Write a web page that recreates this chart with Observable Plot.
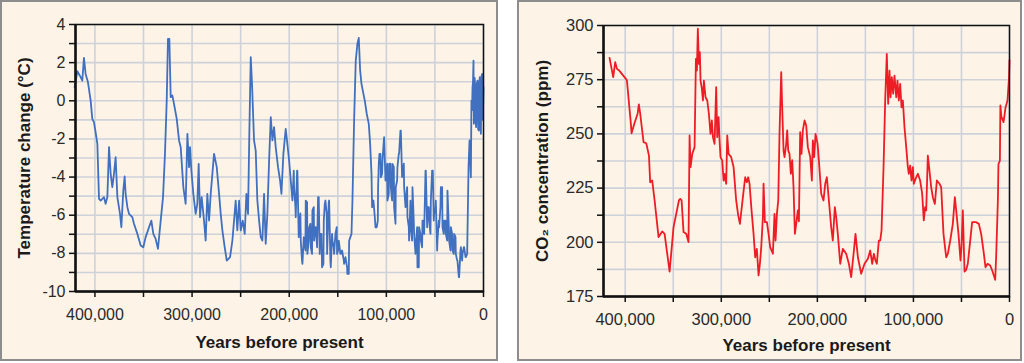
<!DOCTYPE html>
<html>
<head>
<meta charset="utf-8">
<script src="https://cdn.jsdelivr.net/npm/d3@7"></script>
<script src="https://cdn.jsdelivr.net/npm/@observablehq/plot@0.6"></script>
<style>
  html, body { margin: 0; padding: 0; background: #ffffff; }
  body { width: 1024px; height: 363px; position: relative; overflow: hidden; font-family: "Liberation Sans", Arial, sans-serif; }
  .panel { position: absolute; top: 0; height: 361px; box-sizing: border-box; border: 2px solid #8d8d8d; background: #fdf3e7; }
  #left { left: 0; width: 498px; }
  #right { left: 517px; width: 505px; }
  .panel svg { display: block; }
  g[aria-label="x-axis label"] text, g[aria-label="y-axis label"] text { font-weight: bold; font-size: 17px; fill: #1a1a1a; }
  g[aria-label="x-axis tick label"] text, g[aria-label="y-axis tick label"] text { fill: #2a2a2a; }
</style>
</head>
<body>
<div class="panel" id="left"></div>
<div class="panel" id="right"></div>
<script>
// ---- Temperature change (Vostok), years before present in thousands ----
const tempKyr = [420.9,418.1,414.7,413.0,411.3,409.6,407.2,404.4,402.7,401.0,399.3,397.5,395.8,394.1,390.7,389.0,387.2,385.5,383.8,382.1,380.4,378.7,376.9,374.2,372.8,370.8,369.4,368.4,366.6,364.9,361.5,359.8,356.3,352.9,350.2,347.8,344.3,341.9,339.9,337.5,335.1,332.3,329.9,327.9,326.1,324.8,323.4,322.0,320.3,318.6,315.8,313.4,311.7,309.0,306.6,304.8,303.1,302.1,300.7,298.7,296.3,294.6,293.2,291.8,290.1,287.7,286.0,284.3,282.5,280.8,277.4,274.6,272.2,270.5,268.8,266.4,264.3,260.9,258.5,256.8,255.1,253.4,251.6,249.9,247.9,245.8,244.1,242.4,241.0,239.6,238.3,236.2,234.5,232.8,231.0,229.3,227.6,225.9,224.2,222.5,220.7,219.0,217.3,215.6,213.9,211.5,209.4,208.0,206.0,203.6,201.9,200.1,198.4,196.7,195.0,193.3,191.6,189.8,188.1,186.4,184.7,183.0,181.3,179.5,177.8,176.1,174.4,172.7,170.3,168.6,166.8,164.8,163.4,161.4,158.9,157.2,155.5,153.8,151.1,149.7,146.9,143.5,140.1,138.3,135.9,134.9,133.2,131.5,129.8,128.4,127.0,125.6,123.6,122.2,120.2,118.1,116.7,115.3,113.3,111.9,109.9,108.5,107.1,105.7,104.0,102.3,100.6,98.9,97.2,95.4,93.7,92.0,90.3,88.6,86.9,85.1,83.4,81.7,80.0,78.3,76.6,74.8,73.1,71.4,69.7,68.0,66.3,64.5,62.8,61.1,59.4,57.7,56.0,54.2,52.2,50.8,49.1,47.4,45.7,43.9,42.2,40.5,38.8,37.1,35.4,33.6,31.9,30.2,28.5,26.8,25.1,23.3,21.6,19.9,18.2,16.5,15.4,14.4,13.0,12.4,11.3,10.3,9.6,8.6,7.6,6.2,4.8,3.8,2.7,1.4,0.0];
const tempC = [0.71,1.55,1.24,1.06,2.25,1.41,0.98,0.01,-0.95,-1.12,-1.65,-2.26,-5.14,-5.23,-5.05,-5.40,-5.05,-2.43,-3.83,-4.53,-3.83,-2.96,-5.05,-5.93,-6.63,-4.71,-3.97,-4.88,-5.58,-5.93,-6.10,-6.45,-6.98,-7.59,-7.68,-7.15,-6.63,-6.28,-6.98,-7.24,-7.76,-6.28,-5.05,-2.78,0.01,3.25,3.25,0.19,0.28,-0.16,-0.95,-2.08,-2.43,-4.53,-5.40,-1.73,-3.48,-2.43,-3.66,-4.88,-5.93,-5.40,-3.31,-6.10,-5.05,-6.28,-7.33,-4.88,-6.28,-4.88,-2.78,-3.48,-4.88,-5.93,-6.80,-7.68,-8.38,-8.20,-7.33,-6.28,-5.23,-6.80,-5.23,-6.80,-6.28,-6.98,-4.88,-5.93,-1.56,2.29,0.89,-2.08,-2.61,-5.23,-6.28,-7.15,-7.33,-4.88,-7.50,-5.93,-3.13,-0.86,-2.08,-1.38,-2.43,-3.48,-4.18,-4.88,-2.78,-1.47,-2.26,-3.13,-4.18,-5.23,-4.53,-6.10,-3.66,-6.63,-7.33,-8.55,-7.33,-5.23,-8.03,-6.63,-7.68,-5.75,-7.33,-6.63,-5.05,-8.03,-6.98,-8.55,-5.40,-5.93,-5.23,-8.73,-7.33,-8.03,-6.63,-7.85,-8.03,-8.55,-9.08,-7.33,-6.98,-5.23,-1.03,2.11,2.99,3.30,1.59,0.89,0.36,0.01,-0.68,-1.21,-2.26,-3.83,-5.23,-6.10,-6.63,-4.53,-2.78,-4.01,-3.13,-1.91,-4.18,-5.23,-3.31,-4.53,-3.31,-5.58,-4.53,-3.48,-2.78,-1.56,-3.83,-4.53,-5.23,-6.10,-7.33,-6.63,-4.53,-6.98,-7.68,-8.73,-6.63,-7.33,-6.28,-6.98,-3.66,-5.58,-6.28,-5.23,-3.66,-5.93,-5.23,-7.33,-6.63,-4.53,-6.63,-6.28,-6.98,-4.71,-7.33,-6.63,-7.85,-6.98,-8.03,-8.38,-9.25,-7.68,-8.03,-7.68,-8.20,-6.98,-3.48,-2.08,-4.01,0.01,0.71,2.11,-0.86,0.71,-1.38,1.06,-1.56,1.24,-1.73,1.41,0.71];
// second, finer reading of the noisy stretches (195–138 kyr, 115–17 kyr, last 12 kyr)
const tempKyrFine = [195.3,193.6,191.9,190.2,188.5,186.8,185.0,183.3,181.6,179.9,178.2,176.5,174.7,173.0,171.3,169.6,167.9,166.2,164.4,162.7,161.0,159.3,157.6,155.9,154.2,152.4,150.7,149.0,147.3,145.6,143.8,142.1,140.4,138.7,114.7,111.2,108.8,107.8,106.1,104.4,102.6,100.9,99.2,97.5,95.8,94.1,92.3,90.6,88.9,87.2,85.5,83.8,82.0,80.3,78.6,76.9,75.2,73.5,71.8,70.0,68.3,66.6,64.9,63.2,61.5,59.7,58.0,56.3,54.6,52.9,51.2,49.4,47.7,46.0,44.3,42.6,40.9,39.1,37.4,35.7,34.0,32.3,30.6,28.8,27.1,25.4,23.7,22.0,20.3,18.5,16.8,11.8,10.8,9.9,9.1,8.1,6.9,5.5,4.3,3.2,2.0,0.7];
const tempCFine = [-3.66,-5.58,-3.66,-7.15,-5.90,-8.38,-7.15,-7.85,-5.32,-7.33,-6.45,-8.03,-5.58,-6.63,-7.68,-5.05,-6.98,-8.73,-6.28,-5.23,-8.03,-5.32,-8.38,-6.98,-7.68,-6.98,-8.03,-7.33,-8.03,-7.85,-8.38,-8.20,-8.73,-9.08,-5.58,-6.63,-6.28,-3.30,-2.78,-3.83,-2.08,-4.18,-3.30,-4.88,-3.30,-5.23,-3.48,-6.45,-4.18,-2.78,-1.56,-4.00,-3.30,-5.58,-4.53,-6.63,-5.23,-7.33,-6.28,-8.03,-6.63,-8.73,-6.98,-7.68,-6.28,-3.66,-6.63,-5.58,-6.98,-3.66,-6.28,-5.58,-7.85,-6.28,-5.58,-4.53,-6.98,-6.28,-7.33,-6.63,-7.85,-6.98,-8.03,-7.15,-8.38,-9.25,-7.85,-8.38,-7.68,-8.20,-8.03,-0.50,1.00,-1.20,1.20,-1.00,0.90,-1.50,1.00,-1.20,1.30,-1.00];

// ---- CO2 concentration (ppm), years before present in thousands ----
const co2Kyr = [416.3,412.5,410.4,408.6,406.2,399.3,398.2,394.1,393.4,390.6,387.1,385.8,384.4,380.9,378.1,375.3,374.0,371.9,369.4,365.3,361.5,359.0,353.8,349.7,346.9,344.1,342.7,341.3,339.3,336.5,334.1,333.0,332.0,330.2,327.8,326.4,325.4,324.4,323.3,322.3,321.6,320.2,319.1,318.1,316.4,314.6,312.9,311.2,309.8,308.7,307.0,305.3,304.2,302.8,301.8,300.8,299.0,297.6,296.6,294.9,293.8,292.4,289.7,287.2,284.5,282.4,280.6,277.5,275.1,273.4,272.0,270.6,268.5,266.4,264.7,263.0,261.2,259.8,258.4,256.7,256.0,254.6,252.5,250.8,249.1,246.3,244.6,243.5,242.1,240.7,239.4,237.6,236.6,235.2,234.2,232.4,231.4,230.3,229.0,227.6,226.2,224.8,223.4,222.0,220.3,219.2,217.9,216.5,215.1,213.3,211.6,209.9,207.4,205.7,204.7,203.3,201.9,199.8,198.4,196.0,193.6,191.8,190.1,188.0,185.6,183.9,181.8,180.4,178.7,176.2,173.5,170.0,167.2,164.8,162.3,160.3,157.8,154.4,150.9,147.4,145.0,142.9,141.2,139.5,138.1,136.0,134.6,133.2,131.1,129.4,127.7,126.3,124.9,123.8,122.5,121.1,119.7,117.9,116.6,115.2,113.8,112.4,111.0,109.3,107.5,105.8,104.8,103.4,102.0,100.6,99.6,97.1,95.4,93.0,90.9,89.2,87.8,86.7,85.0,83.3,81.5,79.8,77.7,75.6,72.8,71.1,68.7,65.9,64.2,61.7,59.0,56.9,55.5,53.1,51.0,50.0,48.6,46.8,45.1,43.4,40.9,38.9,34.7,31.9,29.5,27.1,25.0,22.9,20.1,18.0,14.9,13.9,12.1,11.5,10.0,9.5,8.5,6.2,4.2,2.1,0.5,0.0];
const co2Ppm = [285.1,276.2,283.1,280.0,279.2,275.4,274.6,254.6,250.3,254.6,259.3,263.6,259.3,246.2,245.7,240.0,227.7,228.5,219.3,202.4,205.0,203.9,186.5,207.0,213.1,219.3,220.0,219.3,204.7,203.9,200.1,249.3,234.7,240.8,243.9,284.6,279.2,298.5,282.3,287.7,274.6,270.8,265.4,274.6,266.9,265.4,259.3,250.0,256.2,248.5,245.4,271.6,248.5,257.7,247.0,239.3,237.7,228.5,231.6,227.0,249.3,240.8,239.3,234.7,219.3,212.4,208.5,220.8,230.0,227.7,230.0,227.0,214.7,203.9,193.1,197.0,184.7,190.1,197.8,211.6,227.0,209.3,209.3,203.9,197.8,194.7,213.1,200.8,213.1,219.3,250.0,278.5,262.3,242.3,239.3,245.4,251.6,242.3,240.8,231.6,237.9,225.4,203.9,208.5,214.7,209.7,250.8,240.8,251.6,256.2,253.9,243.9,239.3,228.5,247.0,239.3,250.0,245.4,237.7,222.4,219.3,227.0,230.0,219.3,207.0,200.8,216.2,211.6,203.9,190.1,197.0,194.7,190.1,183.9,194.7,203.9,193.1,185.5,190.1,192.4,196.2,190.1,194.7,191.6,190.1,200.8,200.8,205.4,234.7,265.4,286.9,263.9,279.2,266.9,276.2,268.5,276.9,266.9,274.6,265.4,273.1,262.3,265.4,253.1,243.9,234.7,231.6,235.4,228.5,234.7,227.0,230.0,231.6,228.5,222.4,210.1,216.2,214.7,240.0,233.1,225.4,220.8,217.7,228.5,227.0,225.4,203.9,193.1,194.7,200.8,208.5,220.8,214.7,203.9,191.6,197.8,214.7,186.5,187.3,190.1,200.8,209.3,209.3,208.5,203.9,196.2,188.5,190.1,189.3,187.0,182.7,193.1,219.3,236.0,237.7,263.1,258.0,255.4,262.0,265.4,276.0,284.0];

// ---- ticks ----
const xTickYears = [400000, 350000, 300000, 250000, 200000, 150000, 100000, 50000, 0];
const xTickLabels = ["400,000", "", "300,000", "", "200,000", "", "100,000", "", "0"];
const tempTicks = d3.range(-10, 4.001, 1);
const tempTickLabels = tempTicks.map(v => (v % 2 === 0 ? String(v) : ""));
const co2Ticks = d3.range(175, 300.001, 12.5);
const co2TickLabels = co2Ticks.map(v => (v % 25 === 0 ? String(v) : ""));

const tempData = d3.sort(
  tempKyr.map((k, i) => ({year: k * 1000, value: tempC[i]}))
    .concat(tempKyrFine.map((k, i) => ({year: k * 1000, value: tempCFine[i]}))),
  (a, b) => b.year - a.year
);
const co2Data = co2Kyr.map((k, i) => ({year: k * 1000, value: co2Ppm[i]}));

const gridStyle = {stroke: "#cdd2da", strokeOpacity: 1, strokeWidth: 1.6};
const xLabelOf = d => xTickLabels[xTickYears.indexOf(d)];

function panel({w, h, ml, mr, mt, mb, xDomain, yDomain, yTicks, yLabelOf, data, color, lineWidth, yLabel, yLabelOffset, xLabelOffset, fontSize}) {
  return Plot.plot({
    width: w, height: h,
    marginLeft: ml, marginRight: mr, marginTop: mt, marginBottom: mb,
    style: {background: "transparent", fontFamily: "'Liberation Sans', Arial, sans-serif", fontSize: fontSize + "px", color: "#111"},
    x: {domain: xDomain},
    y: {domain: yDomain},
    marks: [
      Plot.gridX(xTickYears, gridStyle),
      Plot.gridY(yTicks, gridStyle),
      Plot.axisX(xTickYears, {tickSize: 6, tickPadding: 11, strokeWidth: 1.5, tickFormat: xLabelOf, fontSize,
        label: "Years before present", labelAnchor: "center", labelArrow: "none", labelOffset: xLabelOffset}),
      Plot.axisY(yTicks, {tickSize: 6, tickPadding: 4, strokeWidth: 1.5, tickFormat: yLabelOf, fontSize,
        label: yLabel, labelAnchor: "center", labelArrow: "none", labelOffset: yLabelOffset}),
      Plot.line(data, {x: "year", y: "value", stroke: color, strokeWidth: lineWidth, strokeLinejoin: "round"}),
      Plot.frame({stroke: "#111", strokeWidth: 1.5}),
      Plot.ruleX([xDomain[0]], {stroke: "#111", strokeWidth: 2.5}),
      Plot.ruleY([yDomain[0]], {stroke: "#111", strokeWidth: 2.5})
    ]
  });
}

document.getElementById("left").append(panel({
  w: 494, h: 357, ml: 73, mr: 13, mt: 22, mb: 68,
  xDomain: [420000, 0], yDomain: [-10, 4],
  yTicks: tempTicks, yLabelOf: d => tempTickLabels[tempTicks.indexOf(d)],
  data: tempData, color: "#4070bf", lineWidth: 1.8,
  yLabel: "Temperature change (°C)", yLabelOffset: 58, xLabelOffset: 56, fontSize: 16
}));

document.getElementById("right").append(panel({
  w: 501, h: 357, ml: 84, mr: 11, mt: 23, mb: 63,
  xDomain: [422600, 0], yDomain: [175, 300],
  yTicks: co2Ticks, yLabelOf: d => co2TickLabels[co2Ticks.indexOf(d)],
  data: co2Data, color: "#ee1c24", lineWidth: 1.8,
  yLabel: "CO\u2082 concentration (ppm)", yLabelOffset: 68, xLabelOffset: 54, fontSize: 16.5
}));
</script>
</body>
</html>
